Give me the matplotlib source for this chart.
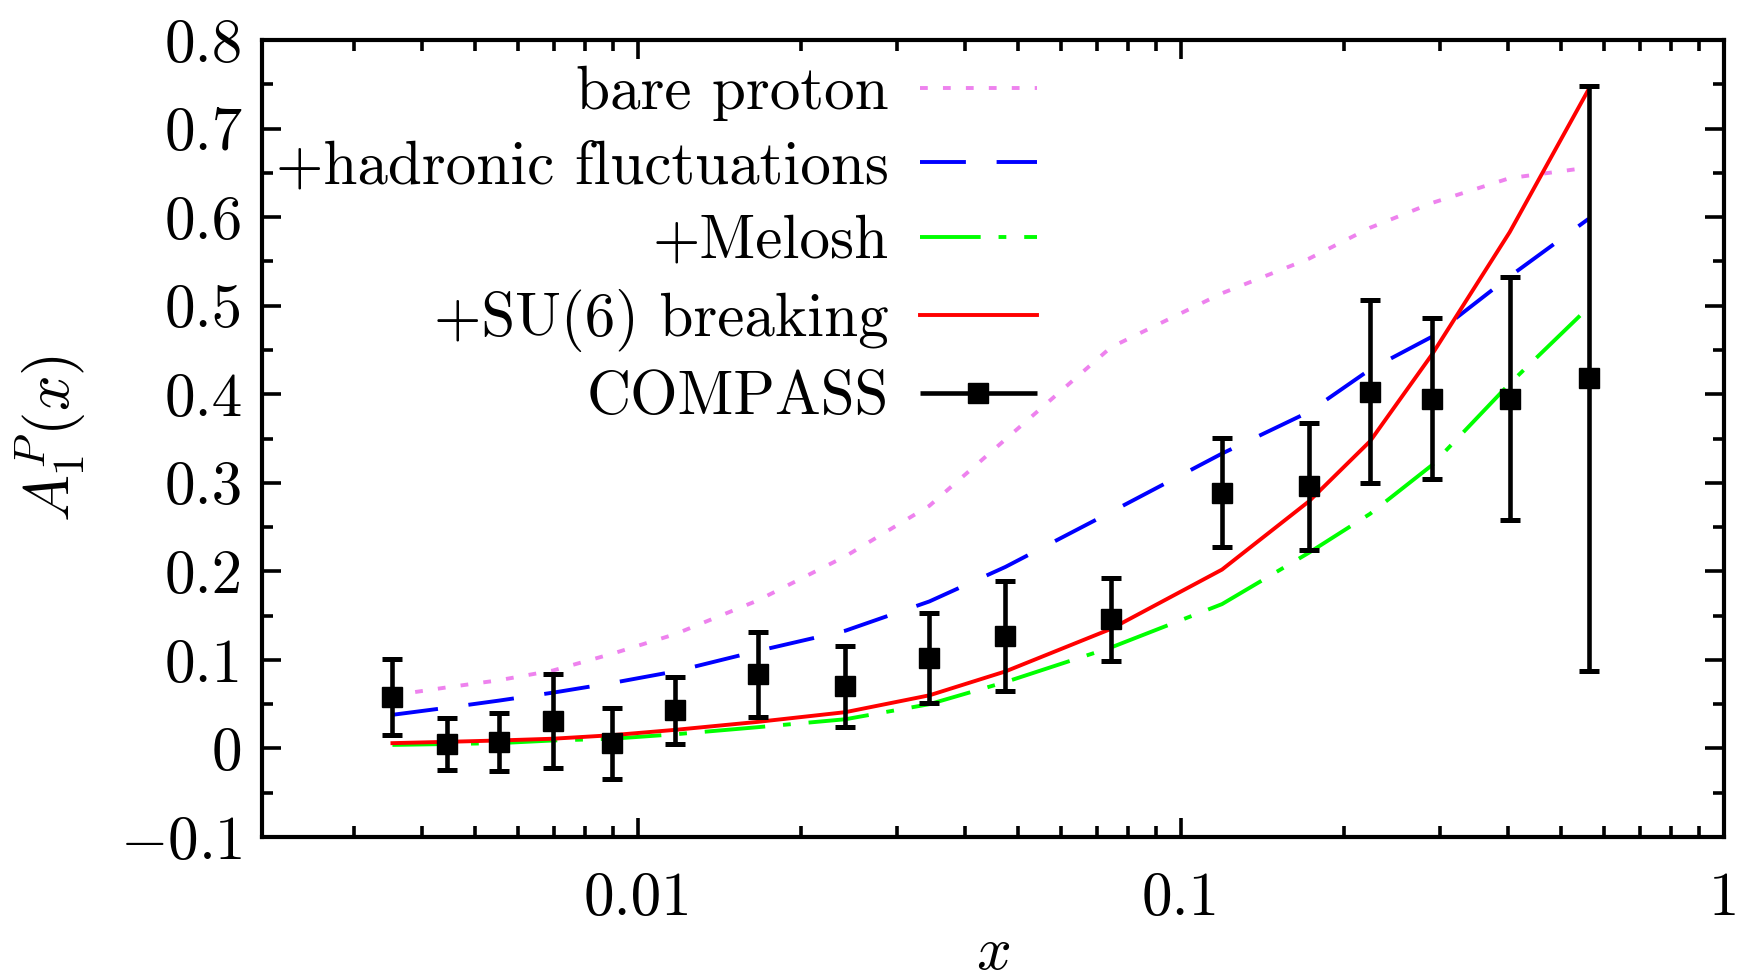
import numpy as np
import matplotlib
matplotlib.use('Agg')
import matplotlib.pyplot as plt
from matplotlib import ticker, transforms
from matplotlib.legend_handler import HandlerErrorbar

plt.rcParams['font.family'] = 'cmr10'
plt.rcParams['mathtext.fontset'] = 'cm'
plt.rcParams['axes.formatter.use_mathtext'] = True

# x grid (COMPASS bins, model curves evaluated there too)
x_vals = [0.00353, 0.00445, 0.00554, 0.00697, 0.00897, 0.0117, 0.0166, 0.0241,
          0.0344, 0.0475, 0.0743, 0.119, 0.172, 0.223, 0.290, 0.403, 0.563]

# model curves
bare_proton = [0.060, 0.069, 0.077, 0.088, 0.107, 0.129, 0.167, 0.217, 0.274,
               0.349, 0.453, 0.514, 0.553, 0.588, 0.616, 0.644, 0.656]
hadronic = [0.038, 0.046, 0.054, 0.063, 0.074, 0.087, 0.110, 0.133, 0.166,
            0.205, 0.267, 0.333, 0.380, 0.428, 0.465, 0.533, 0.598]
melosh = [0.004, 0.005, 0.006, 0.009, 0.011, 0.016, 0.024, 0.033, 0.050,
          0.075, 0.114, 0.163, 0.221, 0.265, 0.320, 0.412, 0.498]
su6_breaking = [0.006, 0.0075, 0.009, 0.011, 0.015, 0.021, 0.030, 0.041, 0.060,
                0.087, 0.135, 0.202, 0.279, 0.347, 0.445, 0.583, 0.744]

# COMPASS data
compass_y = [0.058, 0.005, 0.0075, 0.031, 0.006, 0.043, 0.084, 0.070, 0.102,
             0.127, 0.146, 0.289, 0.296, 0.403, 0.395, 0.395, 0.418]
compass_err = [0.043, 0.029, 0.033, 0.053, 0.040, 0.038, 0.048, 0.046, 0.051,
               0.062, 0.047, 0.062, 0.072, 0.103, 0.091, 0.137, 0.330]

fs = 44

fig = plt.figure(figsize=(17.43, 9.8), dpi=100)
ax = fig.add_axes([0.1503, 0.1459, 0.8388, 0.8133])

lw = 2.8
ax.plot(x_vals, bare_proton, color='violet', lw=lw, ls=(0, (2.0, 3.9)),
        label='bare proton')
ax.plot(x_vals, hadronic, color='#0000ff', lw=lw, ls=(0, (11.8, 7.9)),
        label='+hadronic fluctuations')
ax.plot(x_vals, melosh, color='#00ff00', lw=lw, ls=(0, (15.6, 4.6, 2.0, 4.6)),
        label='+Melosh')
ax.plot(x_vals, su6_breaking, color='#ff0000', lw=lw, label='+SU(6) breaking')

eb_style = dict(fmt='s', color='black', ms=14, elinewidth=3.3, capsize=7.2,
                capthick=3.6)
ax.errorbar(x_vals, compass_y, yerr=compass_err, zorder=5, **eb_style)

# legend proxy drawn as horizontal error bar
proxy = ax.errorbar([], [], xerr=[], label='COMPASS', **eb_style)

ax.set_xscale('log')
ax.set_xlim(0.00203, 1)
ax.set_ylim(-0.1, 0.8)


def ytick_fmt(v, pos):
    if abs(v) < 1e-9:
        return '0'
    s = '%g' % round(v, 2)
    return s.replace('-', '$-$')


ax.xaxis.set_major_locator(ticker.LogLocator(base=10, numticks=10))
ax.xaxis.set_minor_locator(ticker.LogLocator(base=10, subs=np.arange(2, 10), numticks=20))
ax.xaxis.set_major_formatter(ticker.FormatStrFormatter('%g'))
ax.xaxis.set_minor_formatter(ticker.NullFormatter())
ax.yaxis.set_major_locator(ticker.MultipleLocator(0.1))
ax.yaxis.set_minor_locator(ticker.MultipleLocator(0.05))
ax.yaxis.set_major_formatter(ticker.FuncFormatter(ytick_fmt))

for s in ax.spines.values():
    s.set_linewidth(3.0)
ax.tick_params(which='both', direction='in', top=True, right=True, width=2.6,
               labelsize=fs, pad=14)
ax.tick_params(which='major', length=14)
ax.tick_params(which='minor', length=8)
ax.tick_params(axis='x', pad=25)

ax.set_xlabel('$x$', fontsize=fs)
ax.set_ylabel('$A_1^P(x)$', fontsize=fs + 1)
ax.xaxis.set_label_coords(0.5, 1 - 926 / 980,
                          transform=transforms.blended_transform_factory(ax.transAxes, fig.transFigure))
ax.yaxis.set_label_coords(88 / 1743, 0.5,
                          transform=transforms.blended_transform_factory(fig.transFigure, ax.transAxes))

handles, labels = ax.get_legend_handles_labels()
ax.legend(handles, labels, loc='upper right', bbox_to_anchor=(1037 / 1743, 1 - 66 / 980),
          bbox_transform=fig.transFigure, frameon=False, markerfirst=False,
          fontsize=fs, handlelength=1.92, handletextpad=0.51, labelspacing=0.31,
          borderaxespad=0, borderpad=0,
          handler_map={type(proxy): HandlerErrorbar(xerr_size=0.96)})

fig.savefig('out.png', dpi=100)
